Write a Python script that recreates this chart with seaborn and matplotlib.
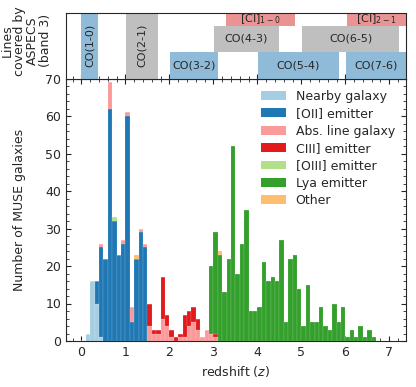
import numpy as np
import pandas as pd
import matplotlib
matplotlib.use("Agg")
import matplotlib.pyplot as plt
import seaborn as sns
from matplotlib.patches import Patch
from matplotlib.ticker import MultipleLocator

# ---------------- data ----------------
categories = ["Nearby galaxy", "[OII] emitter", "Abs. line galaxy", "CIII] emitter",
              "[OIII] emitter", "Lya emitter", "Other"]
cat_colors = ["#a6cee3", "#1f78b4", "#fb9a99", "#e31a1c", "#b2df8a", "#33a02c", "#fdbf6f"]

bin_width = 0.1
# counts in consecutive 0.1-wide redshift bins, starting at the given z
nearby_start, nearby_counts = 0.0, [0, 2, 16, 10, 1]
oii_start, oii_counts = 0.3, [6, 24, 22, 62, 32, 23, 26, 60, 5, 22, 29, 25]
abs_start, abs_counts = 0.4, [1, 0, 7, 0, 0, 1, 1, 4, 0, 1, 1, 4, 2, 2, 6, 4, 1, 0, 1, 1,
                              4, 5, 3, 1, 3, 2, 1]
ciii_start, ciii_counts = 1.5, [6, 1, 1, 11, 3, 2, 1, 1, 6, 4, 4, 3, 0, 0, 0, 1]
oiii_start, oiii_counts = 0.7, [1]
lya_start, lya_counts = 2.9, [18, 27, 23, 13, 22, 52, 18, 26, 35, 8, 8, 9, 21, 16, 17, 16,
                              27, 5, 22, 23, 14, 4, 15, 5, 5, 9, 4, 3, 10, 5, 9, 1, 3, 1,
                              4, 1, 3, 1]
other_z, other_counts = [1.2, 3.1], [1, 1]

# ASPECS band 3 line coverage
band_ghz = [84.0, 115.0]
line_names = ["CO(1-0)", "CO(2-1)", "CO(3-2)", "CO(4-3)", "CO(5-4)", "CO(6-5)",
              "CO(7-6)", r"[CI]$_{1-0}$", r"[CI]$_{2-1}$"]
rest_freq_ghz = [115.271, 230.538, 345.796, 461.041, 576.268, 691.473, 806.652,
                 492.161, 809.342]
line_row = [0, 0, 0, 1, 0, 1, 0, 2, 2]
line_full = [True, True, False, False, False, False, False, False, False]
line_color = ["#8fbbd9", "#bfbfbf", "#8fbbd9", "#bfbfbf", "#8fbbd9", "#bfbfbf",
              "#8fbbd9", "#ea9393", "#ea9393"]

# ---------------- build table ----------------
rows = []
def add(cat, start, counts):
    for i, n in enumerate(counts):
        if n > 0:
            rows.append((start + (i + 0.5) * bin_width, cat, n))

add(categories[0], nearby_start, nearby_counts)
add(categories[1], oii_start, oii_counts)
add(categories[2], abs_start, abs_counts)
add(categories[3], ciii_start, ciii_counts)
add(categories[4], oiii_start, oiii_counts)
add(categories[5], lya_start, lya_counts)
for z, n in zip(other_z, other_counts):
    rows.append((z + 0.5 * bin_width, categories[6], n))
df = pd.DataFrame(rows, columns=["z", "cat", "n"])

# ---------------- plot ----------------
sns.set_style("ticks")
plt.rcParams.update({
    "font.family": ["DejaVu Sans"],
    "font.size": 9,
    "xtick.direction": "in", "ytick.direction": "in",
    "xtick.labelsize": 9, "ytick.labelsize": 9,
    "axes.linewidth": 0.8,
})

fig = plt.figure(figsize=(4.16, 3.87), dpi=100)
L, R = 66 / 416, 406 / 416
ax = fig.add_axes([L, 1 - 341 / 387, R - L, (341 - 78.5) / 387])
axt = fig.add_axes([L, 1 - 78.5 / 387, R - L, (78.5 - 12.5) / 387], sharex=ax)

palette = dict(zip(categories, cat_colors))
sns.histplot(data=df, x="z", weights="n", hue="cat", hue_order=categories[::-1],
             palette=palette, binwidth=bin_width, binrange=(0, 6.8),
             multiple="stack", alpha=1, linewidth=0.3, edgecolor=(1, 1, 1, 0.3),
             legend=False, ax=ax)

xlim = (-0.35, 7.38)
ax.set_xlim(*xlim)
ax.set_ylim(0, 70)
ax.xaxis.set_major_locator(MultipleLocator(1))
ax.xaxis.set_minor_locator(MultipleLocator(0.2))
ax.yaxis.set_major_locator(MultipleLocator(10))
ax.yaxis.set_minor_locator(MultipleLocator(2))
ax.tick_params(which="both", top=True, right=True, direction="in")
ax.set_xlabel("redshift ($z$)")
ax.set_ylabel("Number of MUSE galaxies")
ax.yaxis.set_label_coords(-0.118, 0.5)

handles = [Patch(facecolor=c, edgecolor="none", label=l) for l, c in zip(categories, cat_colors)]
ax.legend(handles=handles, loc="upper right", frameon=False, fontsize=9,
          bbox_to_anchor=(1.0, 1.0), labelspacing=0.35, handletextpad=0.8)

# top panel
for name, f, row, full, col in zip(line_names, rest_freq_ghz, line_row, line_full, line_color):
    z0 = f / band_ghz[1] - 1
    z1 = f / band_ghz[0] - 1
    if full:
        axt.barh(0, z1 - z0, left=z0, height=3, align="edge", color=col, linewidth=0)
        yc, rot = 1.25, 90
    else:
        axt.barh(row, z1 - z0, left=z0, height=1, align="edge", color=col, linewidth=0)
        yc, rot = min(row + 0.5, 2.25), 0
    xc = (max(z0, xlim[0]) + min(z1, xlim[1])) / 2
    axt.text(xc, yc, name, ha="center", va="center", rotation=rot, fontsize=8)

axt.set_ylim(0, 2.5)
axt.set_yticks([])
axt.tick_params(which="both", top=False, bottom=True, direction="in", labelbottom=False)
axt.set_ylabel("Lines\ncovered by\nASPECS\n(band 3)", multialignment="center",
               linespacing=1.0)
axt.yaxis.set_label_coords(-0.04, 0.57)

fig.savefig("out.png", dpi=100)
